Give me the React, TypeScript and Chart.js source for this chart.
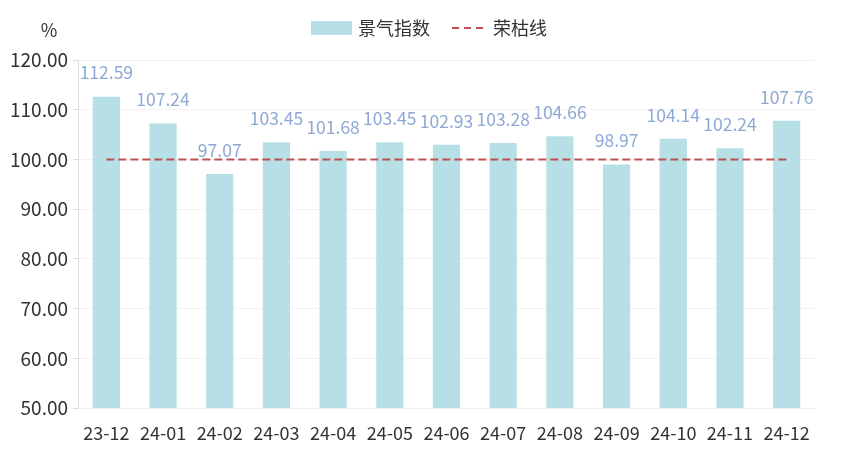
import React, { useEffect, useRef } from "react";
import { Chart, registerables } from "chart.js";

Chart.register(...registerables);

const categories = ["23-12", "24-01", "24-02", "24-03", "24-04", "24-05", "24-06", "24-07", "24-08", "24-09", "24-10", "24-11", "24-12"];
const indexValues = [112.59, 107.24, 97.07, 103.45, 101.68, 103.45, 102.93, 103.28, 104.66, 98.97, 104.14, 102.24, 107.76];
const boomBustValues = [100, 100, 100, 100, 100, 100, 100, 100, 100, 100, 100, 100, 100];
const seriesNames = ["景气指数", "荣枯线"];
const unitLabel = "%";

const FONT = "'Noto Sans CJK SC', 'Noto Sans', sans-serif";
const BAR_COLOR = "#b7dfe6";
const LINE_COLOR = "#bf5152";
const LABEL_COLOR = "#8ea8d5";
const TEXT_COLOR = "#333333";

const decorPlugin = {
  id: "decor",
  afterDatasetsDraw(chart: any) {
    const ctx = chart.ctx;
    const meta = chart.getDatasetMeta(0);
    ctx.save();
    ctx.font = `17.5px ${FONT}`;
    ctx.fillStyle = LABEL_COLOR;
    ctx.textAlign = "center";
    ctx.textBaseline = "middle";
    meta.data.forEach((el: any, i: number) => {
      ctx.fillText(indexValues[i].toFixed(2), el.x, el.y - 24);
    });
    ctx.restore();
  },
  afterDraw(chart: any) {
    const ctx = chart.ctx;
    ctx.save();
    ctx.font = `18px ${FONT}`;
    ctx.fillStyle = TEXT_COLOR;
    ctx.textAlign = "center";
    ctx.textBaseline = "middle";
    ctx.fillText(unitLabel, 41, 22);
    const y = 20;
    ctx.fillStyle = BAR_COLOR;
    ctx.fillRect(303, y - 7, 41, 14);
    ctx.fillStyle = TEXT_COLOR;
    ctx.textAlign = "left";
    ctx.fillText(seriesNames[0], 350, y);
    ctx.strokeStyle = LINE_COLOR;
    ctx.lineWidth = 2;
    ctx.setLineDash([7, 5]);
    ctx.beginPath();
    ctx.moveTo(444, y);
    ctx.lineTo(478, y);
    ctx.stroke();
    ctx.setLineDash([]);
    ctx.fillText(seriesNames[1], 485, y);
    ctx.restore();
  },
};

export default function App() {
  const ref = useRef<HTMLCanvasElement>(null);
  useEffect(() => {
    if (!ref.current) return;
    const chart = new Chart(ref.current, {
      type: "bar",
      data: {
        labels: categories,
        datasets: [
          {
            type: "bar",
            label: seriesNames[0],
            data: indexValues,
            backgroundColor: BAR_COLOR,
            barPercentage: 0.48,
            categoryPercentage: 1,
            order: 2,
          } as any,
          {
            type: "line",
            label: seriesNames[1],
            data: boomBustValues,
            borderColor: LINE_COLOR,
            borderWidth: 2,
            borderDash: [8, 4],
            pointRadius: 0,
            fill: false,
            order: 1,
          } as any,
        ],
      },
      plugins: [decorPlugin],
      options: {
        responsive: false,
        animation: false,
        maintainAspectRatio: false,
        layout: { padding: { top: 52, left: 0, right: 21, bottom: 0 } },
        plugins: {
          legend: { display: false },
          tooltip: { enabled: false },
        },
        scales: {
          x: {
            grid: { display: false, drawTicks: false },
            border: { color: "#eeeeee" },
            ticks: {
              color: TEXT_COLOR,
              font: { family: FONT, size: 18 },
              padding: 14,
              maxRotation: 0,
              autoSkip: false,
            },
            afterFit: (s: any) => {
              s.height = 42;
            },
          },
          y: {
            min: 50,
            max: 120,
            grid: { color: "#f3f3f3", tickLength: 5, tickColor: "#dddddd" },
            border: { color: "#dddddd" },
            ticks: {
              stepSize: 10,
              color: TEXT_COLOR,
              font: { family: FONT, size: 19 },
              padding: 5,
              callback: (v: any) => Number(v).toFixed(2),
            },
            afterFit: (s: any) => {
              s.width = 70;
            },
          },
        },
      },
    });
    return () => chart.destroy();
  }, []);
  return (
    <div style={{ width: 828, height: 442 }}>
      <canvas ref={ref} width={828} height={442} />
    </div>
  );
}
